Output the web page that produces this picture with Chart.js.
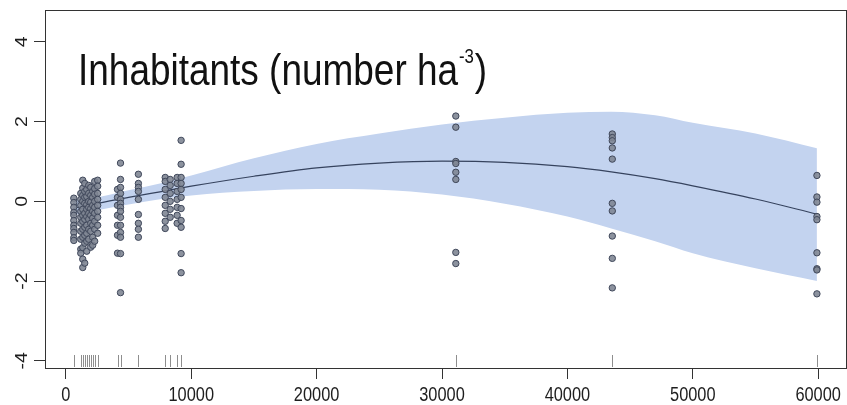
<!DOCTYPE html>
<html><head><meta charset="utf-8">
<script src="https://cdn.jsdelivr.net/npm/chart.js@4/dist/chart.umd.min.js"></script>
<style>html,body{margin:0;padding:0;background:#fff}canvas{display:block}</style>
</head><body>
<canvas id="c" width="847" height="405"></canvas>
<script>
// ---- data ----
const xTicks = [0, 10000, 20000, 30000, 40000, 50000, 60000];
const yTicks = [-4, -2, 0, 2, 4];
const titleText = "Inhabitants (number ha";
const titleSup = "-3";
const titleEnd = ")";

const siteX = [634, 1189, 1347, 1506, 1664, 1822, 1981, 2139, 2298, 2536,
               4120, 4358, 5784, 7924, 8320, 8875, 9192, 31100, 43580, 59900];
const siteY = [
  [0.08, -0.03, -0.15, -0.28, -0.35, -0.48, -0.6, -0.68, -0.78, -0.91, -0.98],
  [0.2, 0.05, -0.1, -0.25, -0.4, -0.55, -0.75, -0.95, -1.2, -1.3],
  [0.53, 0.33, 0.15, 0.0, -0.2, -0.35, -0.5, -0.7, -0.9, -1.16, -1.45, -1.66],
  [0.45, 0.25, 0.1, -0.05, -0.3, -0.45, -0.65, -0.85, -1.05, -1.55],
  [0.3, 0.12, -0.08, -0.2, -0.38, -0.6, -0.8, -1.0, -1.25],
  [0.4, 0.2, 0.0, -0.15, -0.3, -0.45, -0.7, -0.95],
  [0.35, 0.15, -0.02, -0.18, -0.35, -0.55, -0.75, -1.15],
  [0.25, 0.1, -0.1, -0.25, -0.42, -0.6, -0.9, -1.1],
  [0.5, 0.32, 0.18, 0.0, -0.15, -0.3, -0.5, -0.7, -1.0],
  [0.53, 0.38, 0.2, 0.05, -0.1, -0.25, -0.4, -0.6, -0.8],
  [0.3, 0.1, -0.1, -0.35, -0.6, -0.85, -1.3],
  [0.96, 0.55, 0.35, 0.2, 0.05, -0.05, -0.15, -0.25, -0.4, -0.6, -0.78, -0.9, -1.31, -2.29],
  [0.68, 0.45, 0.35, 0.25, 0.05, -0.33, -0.55, -0.7, -0.9],
  [0.6, 0.5, 0.3, 0.1, -0.1, -0.3, -0.5, -0.68],
  [0.55, 0.4, 0.2, 0.0, -0.2, -0.4],
  [0.6, 0.45, 0.25, 0.05, -0.15, -0.35, -0.55],
  [1.53, 0.93, 0.6, 0.45, 0.3, 0.1, -0.18, -0.48, -0.65, -1.31, -1.79],
  [2.14, 1.86, 1.0, 0.95, 0.73, 0.55, -1.28, -1.56],
  [1.69, 1.6, 1.52, 1.34, 1.06, -0.05, -0.24, -0.87, -1.43, -2.17],
  [0.65, 0.11, -0.02, -0.38, -0.46, -1.29, -1.69, -1.72, -2.32]
];

const fitX   = [600, 2500, 5000, 7500, 10000, 15000, 20000, 25000, 30000, 35000, 40000, 43500, 47000, 50000, 55000, 59900];
const fitY   = [-0.18, -0.05, 0.1, 0.24, 0.38, 0.63, 0.84, 0.96, 1.01, 0.98, 0.87, 0.74, 0.57, 0.39, 0.06, -0.32];
const upperY = [0.02, 0.1, 0.28, 0.45, 0.65, 1.08, 1.44, 1.7, 1.93, 2.1, 2.22, 2.25, 2.16, 1.97, 1.7, 1.33];
const lowerY = [-0.35, -0.22, -0.08, 0.05, 0.15, 0.26, 0.31, 0.29, 0.17, -0.06, -0.38, -0.68, -1.0, -1.3, -1.68, -2.0];

// ---- build ----
const pts = [];
siteX.forEach((x, i) => siteY[i].forEach(y => pts.push({x, y})));
const toXY = (ys) => fitX.map((x, i) => ({x, y: ys[i]}));

const FONT = '"Liberation Sans", Arial, sans-serif';
const SQ = 0.84;

const decor = {
  id: 'decor',
  afterDraw(chart) {
    const ctx = chart.ctx, a = chart.chartArea;
    const xs = chart.scales.x, ys = chart.scales.y;
    ctx.save();
    // box
    ctx.strokeStyle = '#333';
    ctx.lineWidth = 1;
    ctx.strokeRect(a.left + 0.5, a.top + 0.5, a.right - a.left + 4, a.bottom - a.top);
    // rug
    ctx.strokeStyle = '#8e8e8e';
    siteX.forEach(x => {
      const px = Math.round(xs.getPixelForValue(x)) + 0.5;
      ctx.beginPath();
      ctx.moveTo(px, a.bottom - 13);
      ctx.lineTo(px, a.bottom - 1);
      ctx.stroke();
    });
    // x labels
    ctx.fillStyle = '#1e1e1e';
    ctx.font = '19.5px ' + FONT;
    ctx.textAlign = 'center';
    ctx.textBaseline = 'middle';
    xTicks.forEach(v => {
      const px = xs.getPixelForValue(v);
      ctx.save();
      ctx.translate(px, a.bottom + 28);
      ctx.scale(SQ, 1);
      ctx.fillText(String(v), 0, 0);
      ctx.restore();
    });
    // y labels (rotated)
    yTicks.forEach(v => {
      const py = ys.getPixelForValue(v);
      ctx.save();
      ctx.translate(a.left - 23, py);
      ctx.scale(SQ, 1);
      ctx.rotate(-Math.PI / 2);
      ctx.fillText(String(v), 0, 0);
      ctx.restore();
    });
    // title
    ctx.save();
    ctx.fillStyle = '#111';
    ctx.translate(a.left + 33, a.top + 75);
    ctx.scale(SQ, 1);
    ctx.textAlign = 'left';
    ctx.textBaseline = 'alphabetic';
    ctx.font = '44px ' + FONT;
    ctx.fillText(titleText, 0, 0);
    let w = ctx.measureText(titleText).width;
    ctx.font = '20px ' + FONT;
    ctx.fillText(titleSup, w + 1, -22);
    w += ctx.measureText(titleSup).width + 2;
    ctx.font = '44px ' + FONT;
    ctx.fillText(titleEnd, w, 0);
    ctx.restore();
    ctx.restore();
  }
};

const axisGrid = {
  drawOnChartArea: false, drawTicks: true, tickLength: 11,
  color: '#333', lineWidth: 1
};

new Chart(document.getElementById('c'), {
  type: 'scatter',
  data: {
    datasets: [
      { label: 'upper', data: toXY(upperY), showLine: true, fill: '+1',
        backgroundColor: 'rgb(195,211,239)', borderWidth: 0, pointRadius: 0,
        cubicInterpolationMode: 'monotone', order: 4 },
      { label: 'lower', data: toXY(lowerY), showLine: true, fill: false,
        borderWidth: 0, pointRadius: 0, cubicInterpolationMode: 'monotone', order: 5 },
      { label: 'fit', data: toXY(fitY), showLine: true, fill: false,
        borderColor: '#36435e', borderWidth: 1.2, pointRadius: 0,
        cubicInterpolationMode: 'monotone', order: 1 },
      { label: 'obs', data: pts, pointRadius: 3.2, pointBorderWidth: 1,
        pointBackgroundColor: 'rgba(128,134,148,0.9)', pointBorderColor: '#3f475a', order: 0 }
    ]
  },
  options: {
    responsive: false, animation: false, devicePixelRatio: 1,
    layout: { padding: { top: 10, right: 0, left: 0, bottom: 0 } },
    plugins: { legend: { display: false }, tooltip: { enabled: false }, title: { display: false } },
    scales: {
      x: {
        type: 'linear', min: -1664, max: 61900,
        afterBuildTicks: s => { s.ticks = xTicks.map(v => ({value: v})); },
        afterFit: s => { s.height = 37; },
        ticks: { display: false },
        grid: axisGrid,
        border: { display: false }
      },
      y: {
        type: 'linear', min: -4.18, max: 4.8,
        afterBuildTicks: s => { s.ticks = yTicks.map(v => ({value: v})); },
        afterFit: s => { s.width = 45; },
        ticks: { display: false },
        grid: axisGrid,
        border: { display: false }
      }
    }
  },
  plugins: [decor]
});
</script>
</body></html>
